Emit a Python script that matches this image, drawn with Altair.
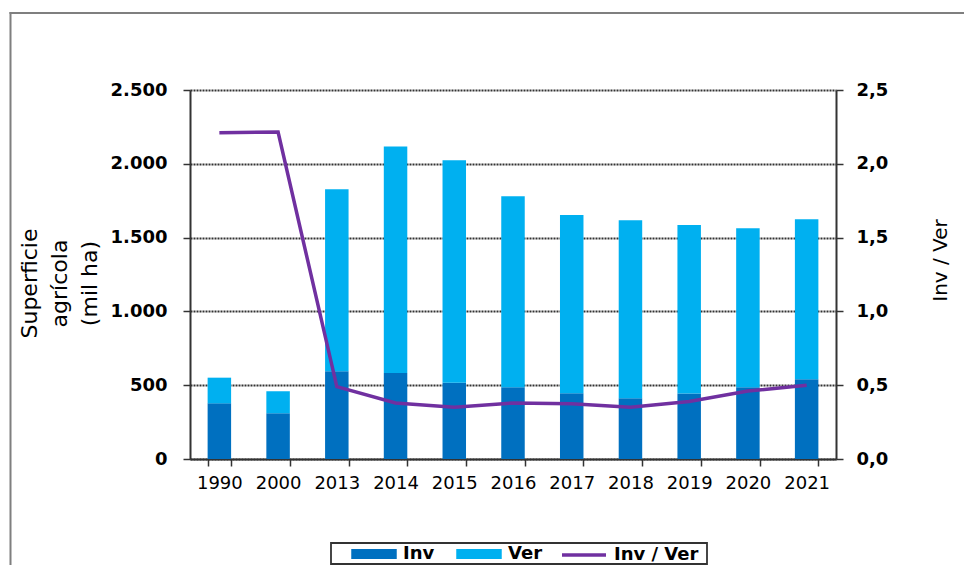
import altair as alt
import pandas as pd

years = ["1990", "2000", "2013", "2014", "2015", "2016", "2017", "2018", "2019", "2020", "2021"]
inv = [377, 310, 594, 583, 517, 486, 445, 411, 443, 486, 540]
ver = [174, 149, 1233, 1535, 1507, 1294, 1208, 1206, 1142, 1077, 1084]
ratio = [2.21, 2.215, 0.49, 0.38, 0.35, 0.38, 0.375, 0.35, 0.39, 0.46, 0.50]
left_ticks = [0, 500, 1000, 1500, 2000, 2500]
right_ticks = [0, 0.5, 1.0, 1.5, 2.0, 2.5]

rows = []
for i, y in enumerate(years):
    rows.append({"year": y, "serie": "Inv", "value": inv[i], "ord": 0})
    rows.append({"year": y, "serie": "Ver", "value": ver[i], "ord": 1})
bars_df = pd.DataFrame(rows)
line_df = pd.DataFrame({"year": years, "ratio": ratio, "s": ["Inv / Ver"] * len(years)})

FONT = "DejaVu Sans"
W, H = 646, 369

x_axis = alt.Axis(
    title=None, labelAngle=0, tickBand="extent", tickSize=7, tickColor="#333", tickWidth=1.5,
    domainColor="#333", domainWidth=2, labelFont=FONT, labelFontSize=18, labelColor="#000",
    labelPadding=8, grid=False,
)
x_scale = alt.Scale(paddingInner=0.6, paddingOuter=0.3)

one = alt.Data(values=[{"a": 1}])

frame_left = alt.Chart(one).mark_rule(color="#7f7f7f", strokeWidth=2).encode(
    x=alt.value(-179.5), y=alt.value(-78), y2=alt.value(H + 200)
)
frame_top = alt.Chart(one).mark_rule(color="#7f7f7f", strokeWidth=2).encode(
    x=alt.value(-180.5), x2=alt.value(W + 200), y=alt.value(-77)
)
legend_box = alt.Chart(one).mark_rect(fill="white", stroke="#333", strokeWidth=1.8).encode(
    x=alt.value(141), x2=alt.value(517), y=alt.value(453), y2=alt.value(474)
)

bars = alt.Chart(bars_df).mark_bar().encode(
    x=alt.X("year:N", sort=years, scale=x_scale, axis=x_axis),
    y=alt.Y(
        "value:Q", stack="zero",
        scale=alt.Scale(domain=[0, 2500], nice=False),
        axis=alt.Axis(
            orient="left", values=left_ticks,
            labelExpr="replace(format(datum.value, ','), ',', '.')",
            grid=True, gridColor="#333", gridDash=[2, 1], gridWidth=2,
            domainColor="#333", domainWidth=2, tickColor="#333", tickWidth=1.5, tickSize=7,
            labelFont=FONT, labelFontSize=18, labelFontWeight="bold", labelColor="#000",
            labelPadding=16,
            title=["Superficie", "agrícola", "(mil ha)"], titleFont=FONT, titleFontSize=22,
            titleFontWeight="normal", titleColor="#000", titleAngle=270, titleX=-161, titleY=193,
            titleAlign="center", titleBaseline="middle", titleLineHeight=30,
        ),
    ),
    color=alt.Color(
        "serie:N",
        scale=alt.Scale(domain=["Inv", "Ver"], range=["#0070C0", "#00B0F0"]),
        legend=alt.Legend(
            orient="none", legendX=161, legendY=441, direction="horizontal", title=None,
            symbolType="M-1,-0.22H1V0.22H-1Z", symbolSize=2070, symbolStrokeWidth=0,
            labelFont=FONT, labelFontSize=18, labelFontWeight="bold", labelColor="#000",
            labelOffset=6, columnPadding=21, padding=0,
        ),
    ),
    order=alt.Order("ord:Q"),
)

line = alt.Chart(line_df).mark_line(strokeWidth=3.5).encode(
    x=alt.X("year:N", sort=years, scale=x_scale, axis=x_axis),
    y=alt.Y(
        "ratio:Q",
        scale=alt.Scale(domain=[0, 2.5], nice=False),
        axis=alt.Axis(
            orient="right", values=right_ticks,
            labelExpr="replace(format(datum.value, '.1f'), '.', ',')",
            grid=False, domainColor="#333", domainWidth=2, tickColor="#333", tickWidth=1.5,
            tickSize=7, labelFont=FONT, labelFontSize=18, labelFontWeight="bold", labelColor="#000",
            labelPadding=13,
            title="Inv / Ver", titleFont=FONT, titleFontSize=20, titleFontWeight="normal",
            titleColor="#000", titleAngle=270, titleX=104, titleY=170,
            titleAlign="center", titleBaseline="middle",
        ),
    ),
    stroke=alt.Stroke(
        "s:N",
        scale=alt.Scale(domain=["Inv / Ver"], range=["#7030A0"]),
        legend=alt.Legend(
            orient="none", legendX=370, legendY=441, direction="horizontal", title=None,
            symbolType="stroke", symbolSize=1936, symbolStrokeWidth=3.5,
            labelFont=FONT, labelFontSize=18, labelFontWeight="bold", labelColor="#000",
            labelOffset=6, padding=0,
        ),
    ),
)

chart = (
    alt.layer(frame_left, frame_top, legend_box, bars, line)
    .resolve_scale(y="independent", color="independent", stroke="independent")
    .properties(
        width=W, height=H,
        autosize=alt.AutoSizeParams(type="none"),
        padding={"left": 182, "top": 82, "right": 128, "bottom": 106},
        background="white",
    )
    .configure_view(stroke=None)
)

chart.save("out.html", embed_options={"renderer": "svg", "actions": False})
